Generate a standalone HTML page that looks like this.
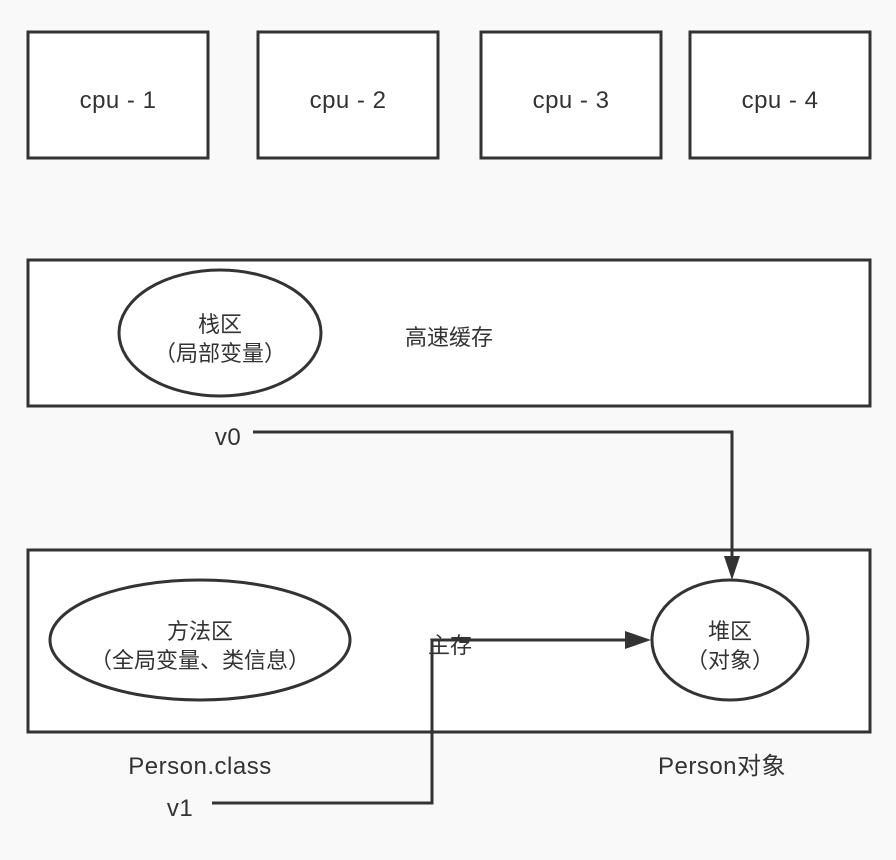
<!DOCTYPE html>
<html><head><meta charset="utf-8"><style>
html,body{margin:0;padding:0;background:#f9f9f9;}
svg{display:block}
text{font-family:"Liberation Sans","Noto Sans CJK SC",sans-serif;fill:#333;font-size:22px;}
.l{font-size:24px;letter-spacing:0.5px}
</style></head><body>
<svg width="896" height="860" viewBox="0 0 896 860" xmlns="http://www.w3.org/2000/svg">
<g fill="#fff" stroke="#333" stroke-width="3">
<rect x="28" y="32" width="180" height="126"/>
<rect x="258" y="32" width="180" height="126"/>
<rect x="481" y="32" width="180" height="126"/>
<rect x="690" y="32" width="180" height="126"/>
<rect x="28" y="260" width="842" height="146"/>
<ellipse cx="220" cy="333" rx="101" ry="63"/>
<rect x="28" y="550" width="842" height="182"/>
<ellipse cx="200" cy="640" rx="150" ry="60"/>
<ellipse cx="730" cy="640" rx="78" ry="60"/>
</g>
<g text-anchor="middle">
<text class="l" x="118" y="108">cpu - 1</text>
<text class="l" x="348" y="108">cpu - 2</text>
<text class="l" x="571" y="108">cpu - 3</text>
<text class="l" x="780" y="108">cpu - 4</text>
<text x="220" y="332">栈区</text>
<text x="220" y="361">（局部变量）</text>
<text x="449" y="345">高速缓存</text>
<text x="200" y="639">方法区</text>
<text x="200" y="668">（全局变量、类信息）</text>
<text x="450" y="653">主存</text>
<text x="730" y="639">堆区</text>
<text x="730" y="668">（对象）</text>
<text class="l" x="200" y="774">Person.class</text>
<text class="l" x="722" y="774">Person对象</text>
<text class="l" x="228" y="445">v0</text>
<text class="l" x="180" y="816">v1</text>
</g>
<g fill="none" stroke="#333" stroke-width="3">
<polyline points="253,432 732,432 732,560"/>
<polyline points="212,803 432,803 432,640 630,640"/>
</g>
<path d="M724,556 L740,556 L732,580 z" fill="#333"/>
<path d="M625,631 L625,649 L651,640 z" fill="#333"/>
</svg>
</body></html>
